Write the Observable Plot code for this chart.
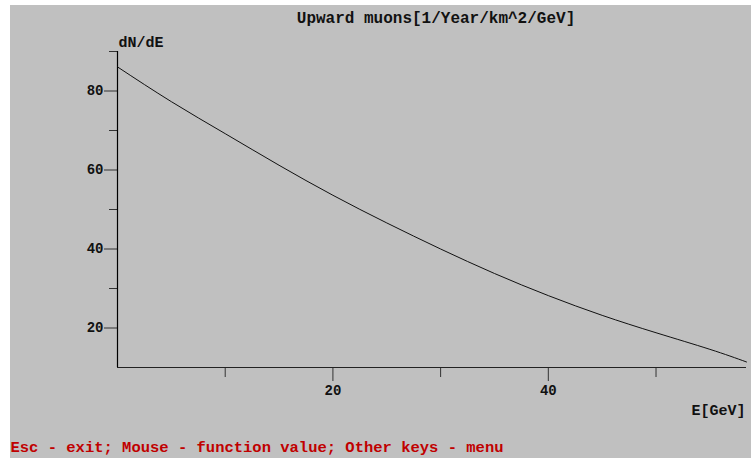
<!DOCTYPE html>
<html>
<head>
<meta charset="utf-8">
<script src="https://cdn.jsdelivr.net/npm/d3@7"></script>
<script src="https://cdn.jsdelivr.net/npm/@observablehq/plot@0.6"></script>
<style>
  html, body { margin: 0; padding: 0; background: #ffffff; overflow: hidden; }
  #chart { padding-left: 10px; padding-top: 5px; }
  #chart svg { display: block; }
</style>
</head>
<body>
<div id="chart"></div>
<script>
// Data
const energy = [0, 5, 10, 15, 20, 25, 30, 35, 40, 45, 50, 55, 58.4];
const flux   = [86.1, 77.3, 69.2, 61.2, 53.6, 46.6, 40.0, 33.8, 28.2, 23.2, 18.8, 14.6, 11.4];

const yMajorTicks = [20, 40, 60, 80];
const yMinorTicks = [30, 50, 70, 90];
const xMajorTicks = [20, 40];
const xMinorTicks = [10, 30, 50];

const titleText = "Upward muons[1/Year/km^2/GeV]";
const yLabelText = "dN/dE";
const xLabelText = "E[GeV]";
const footerText = "Esc - exit; Mouse - function value; Other keys - menu";

const xDomain = [0, 58.4];
const yDomain = [10, 90];

const data = energy.map((e, i) => ({e, v: flux[i]}));

const font = "'Liberation Mono', 'DejaVu Sans Mono', monospace";

const chart = Plot.plot({
  width: 741,
  height: 453,
  marginLeft: 107,
  marginRight: 5,
  marginTop: 46,
  marginBottom: 91,
  style: {background: "#c0c0c0", fontFamily: font, fontSize: "14px", color: "#111"},
  x: {domain: xDomain, axis: null},
  y: {domain: yDomain, axis: null},
  marks: [
    Plot.axisY(yMajorTicks, {tickSize: 13, tickPadding: 1, stroke: "#333", fill: "#111", fontWeight: "bold", fontSize: 14, label: null}),
    Plot.axisY(yMinorTicks, {tickSize: 8, text: null, stroke: "#333", label: null}),
    Plot.axisX(xMajorTicks, {tickSize: 14, tickPadding: 4, stroke: "#333", fill: "#111", fontWeight: "bold", fontSize: 14, label: null}),
    Plot.axisX(xMinorTicks, {tickSize: 10, text: null, stroke: "#333", label: null}),
    Plot.ruleX([xDomain[0]], {y1: yDomain[0], y2: yDomain[1], stroke: "#000", strokeWidth: 1.2}),
    Plot.ruleY([yDomain[0]], {x1: xDomain[0], x2: xDomain[1], stroke: "#222", strokeWidth: 1.2}),
    Plot.line(data, {x: "e", y: "v", stroke: "#111", strokeWidth: 1, curve: "natural"}),
    Plot.text([titleText], {frameAnchor: "top", dx: 4, dy: -34, text: d => d, fontSize: 16, fontWeight: "bold", fill: "#111", lineAnchor: "middle"}),
    Plot.text([yLabelText], {frameAnchor: "top-left", textAnchor: "start", dx: 1, dy: -9, text: d => d, fontSize: 15, fontWeight: "bold", fill: "#111", lineAnchor: "middle"}),
    Plot.text([xLabelText], {frameAnchor: "bottom-right", textAnchor: "end", dx: -1, dy: 43, text: d => d, fontSize: 15, fontWeight: "bold", fill: "#111", lineAnchor: "middle"}),
    Plot.text([footerText], {frameAnchor: "bottom-left", textAnchor: "start", dx: -107, dy: 80, text: d => d, fontSize: 15.5, fontWeight: "bold", fill: "#c00000", lineAnchor: "middle"})
  ]
});
document.getElementById("chart").appendChild(chart);
</script>
</body>
</html>
